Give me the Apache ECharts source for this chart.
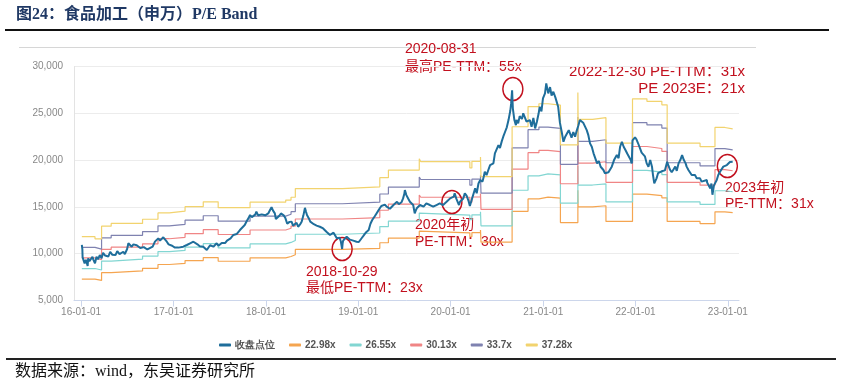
<!DOCTYPE html>
<html>
<head>
<meta charset="utf-8">
<script src="https://cdn.jsdelivr.net/npm/echarts@6/dist/echarts.min.js"></script>
<style>
html,body{margin:0;padding:0;background:#fff;}
#chart{width:842px;height:390px;}
</style>
</head>
<body>
<div id="chart"></div>
<script>
// ---- Data ----
const closeDates = ['2016-01-04','2016-01-06','2016-01-07','2016-01-12','2016-01-15','2016-01-20','2016-01-22','2016-01-27','2016-01-29','2016-02-03','2016-02-05','2016-02-15','2016-02-18','2016-02-25','2016-03-02','2016-03-08','2016-03-15','2016-03-22','2016-03-28','2016-04-05','2016-04-11','2016-04-18','2016-04-25','2016-05-03','2016-05-09','2016-05-16','2016-05-23','2016-06-01','2016-06-08','2016-06-16','2016-06-22','2016-06-27','2016-07-01','2016-07-06','2016-07-12','2016-07-19','2016-07-26','2016-08-01','2016-08-08','2016-08-15','2016-08-22','2016-08-29','2016-09-05','2016-09-12','2016-09-19','2016-09-26','2016-10-10','2016-10-19','2016-10-26','2016-11-01','2016-11-08','2016-11-15','2016-11-21','2016-11-28','2016-12-05','2016-12-12','2016-12-19','2016-12-26','2016-12-30',
'2017-01-06','2017-01-13','2017-01-20','2017-01-26','2017-02-08','2017-02-15','2017-02-22','2017-03-01','2017-03-07','2017-03-14','2017-03-20','2017-03-27','2017-04-05','2017-04-14','2017-04-21','2017-04-28','2017-05-05','2017-05-12','2017-05-19','2017-05-25','2017-06-01','2017-06-07','2017-06-14','2017-06-20','2017-06-27','2017-07-03','2017-07-10','2017-07-17','2017-07-24','2017-07-31','2017-08-07','2017-08-14','2017-08-21','2017-08-25','2017-09-01','2017-09-07','2017-09-14','2017-09-20','2017-09-27','2017-10-09','2017-10-17','2017-10-24','2017-10-30','2017-11-06','2017-11-13','2017-11-20','2017-11-24','2017-12-01','2017-12-08','2017-12-15','2017-12-22','2017-12-29',
'2018-01-04','2018-01-10','2018-01-17','2018-01-23','2018-01-29','2018-02-05','2018-02-09','2018-02-22','2018-03-01','2018-03-05','2018-03-12','2018-03-19','2018-03-26','2018-03-30','2018-04-04','2018-04-12','2018-04-18','2018-04-25','2018-05-02','2018-05-08','2018-05-15','2018-05-22','2018-05-29','2018-06-04','2018-06-08','2018-06-12','2018-06-19','2018-06-25','2018-07-02','2018-07-09','2018-07-16','2018-07-20','2018-07-27','2018-08-02','2018-08-09','2018-08-15','2018-08-21','2018-08-28','2018-09-04','2018-09-11','2018-09-18','2018-09-25','2018-10-08','2018-10-12','2018-10-19','2018-10-24','2018-10-29','2018-10-31','2018-11-02','2018-11-09','2018-11-16','2018-11-23','2018-11-29','2018-12-06','2018-12-12','2018-12-19','2018-12-25',
'2019-01-03','2019-01-07','2019-01-14','2019-01-21','2019-01-28','2019-02-01','2019-02-11','2019-02-18','2019-02-25','2019-03-01','2019-03-07','2019-03-14','2019-03-21','2019-03-27','2019-04-02','2019-04-09','2019-04-16','2019-04-23','2019-04-30','2019-05-06','2019-05-13','2019-05-20','2019-05-27','2019-06-03','2019-06-10','2019-06-14','2019-06-21','2019-06-27','2019-07-02','2019-07-04','2019-07-10','2019-07-17','2019-07-24','2019-07-31','2019-08-06','2019-08-12','2019-08-16','2019-08-20','2019-08-27','2019-09-02','2019-09-09','2019-09-16','2019-09-23','2019-09-27','2019-10-11','2019-10-17','2019-10-24','2019-10-31','2019-11-06','2019-11-13','2019-11-19','2019-11-26','2019-12-02','2019-12-09','2019-12-16','2019-12-23','2019-12-30',
'2020-01-06','2020-01-13','2020-01-17','2020-01-23','2020-02-03','2020-02-07','2020-02-14','2020-02-20','2020-02-26','2020-03-04','2020-03-11','2020-03-17','2020-03-23','2020-03-30','2020-04-07','2020-04-13','2020-04-20','2020-04-27','2020-05-06','2020-05-11','2020-05-15','2020-05-22','2020-05-29','2020-06-05','2020-06-11','2020-06-18','2020-06-24','2020-07-01','2020-07-08','2020-07-14','2020-07-21','2020-07-27','2020-08-03','2020-08-10','2020-08-17','2020-08-24','2020-08-27','2020-08-31','2020-09-03','2020-09-09','2020-09-15','2020-09-18','2020-09-24','2020-09-30','2020-10-09','2020-10-14','2020-10-20','2020-10-27','2020-11-03','2020-11-09','2020-11-16','2020-11-23','2020-11-30','2020-12-07','2020-12-14','2020-12-18','2020-12-25','2020-12-31',
'2021-01-08','2021-01-13','2021-01-21','2021-01-28','2021-02-03','2021-02-10','2021-02-18','2021-02-23','2021-03-01','2021-03-08','2021-03-15','2021-03-22','2021-03-29','2021-04-06','2021-04-12','2021-04-19','2021-04-23','2021-04-30','2021-05-07','2021-05-13','2021-05-20','2021-05-26','2021-06-02','2021-06-08','2021-06-15','2021-06-22','2021-06-28','2021-07-05','2021-07-12','2021-07-19','2021-07-26','2021-08-02','2021-08-09','2021-08-16','2021-08-20','2021-08-27','2021-09-02','2021-09-09','2021-09-16','2021-09-23','2021-09-29','2021-10-08','2021-10-12','2021-10-19','2021-10-26','2021-11-01','2021-11-08','2021-11-15','2021-11-22','2021-11-29','2021-12-06','2021-12-13','2021-12-17','2021-12-20','2021-12-24','2021-12-30',
'2022-01-05','2022-01-11','2022-01-18','2022-01-25','2022-02-07','2022-02-09','2022-02-14','2022-02-21','2022-02-28','2022-03-07','2022-03-11','2022-03-16','2022-03-25','2022-03-31','2022-04-07','2022-04-14','2022-04-20','2022-04-27','2022-05-06','2022-05-11','2022-05-18','2022-05-24','2022-05-31','2022-06-07','2022-06-13','2022-06-20','2022-06-27','2022-07-04','2022-07-11','2022-07-18','2022-07-22','2022-07-29','2022-08-05','2022-08-11','2022-08-17','2022-08-24','2022-08-31','2022-09-06','2022-09-13','2022-09-19','2022-09-26','2022-10-10','2022-10-11','2022-10-17','2022-10-24','2022-10-28','2022-11-01','2022-11-07','2022-11-18','2022-11-24','2022-12-01','2022-12-08','2022-12-14','2022-12-21','2022-12-28','2022-12-30',
'2023-01-09','2023-01-13','2023-01-20'];

const closeValues = [10930,10500,9600,9400,8970,9350,9300,8700,9510,9200,9260,9680,9400,8970,9680,9400,9860,9510,10100,9800,9960,9700,10210,9900,10000,9850,10280,9960,10150,10210,9950,9860,10500,11110,10900,10750,11000,11180,10900,10750,10600,10470,10700,10570,10450,10390,10750,11290,11350,11640,11400,11500,11750,11600,11280,11000,10900,10850,10750,
10650,10570,10650,10800,10750,10850,10930,11000,11110,11050,11280,11150,11000,10800,10900,10750,10550,10390,10600,10900,10700,10750,10950,11110,10850,10930,11150,11280,11150,11400,11500,11640,11800,12000,11900,12100,12300,12530,12700,13060,13500,13800,14130,13900,13800,14200,14490,14100,14000,14200,14310,14100,
13950,14300,14670,14960,14600,14310,13700,14030,14300,14500,14100,13780,13200,13060,13400,13420,13000,13150,13300,12880,13100,13420,14100,14900,14500,14130,13800,13420,13300,13150,13200,13000,13100,12880,12900,12700,12500,12350,12200,12000,12100,12250,11640,11500,11700,11300,10500,11100,11400,11600,11810,11600,11500,11550,11400,11350,11280,
11250,11400,11650,11900,12100,12300,12530,13200,13600,13780,14000,14300,14600,14850,15100,15200,15250,15020,15200,14800,15000,15200,15300,15550,15300,15200,15500,15910,16400,16800,16260,15900,15550,15350,15200,14310,14600,14850,15000,15200,15300,15020,15200,15380,15200,15350,15020,15100,15200,15300,15380,15250,15200,15400,15550,15700,15910,
15700,16090,16450,15910,15200,15550,15700,15900,16450,16200,15700,15100,15200,16280,17000,16450,17500,17870,17700,18240,18760,18400,18940,19470,19300,19650,20720,20900,21600,21300,22000,22500,23000,23500,24300,25300,26000,27450,25500,24280,23740,24300,23920,24700,24400,25000,24600,24100,23900,24280,23560,24500,23390,24100,25000,25700,25200,26600,
27130,28200,27130,27800,26900,27300,26700,26800,25700,24000,23030,21960,22500,22900,23200,23000,22400,23000,22500,23100,23700,24280,24460,24000,23600,23200,22700,21790,21430,20720,20900,19650,19900,19290,19500,18940,18600,18400,18700,18600,19300,20000,20200,20550,20200,21430,21960,21430,21080,20700,20360,20000,19650,22100,22000,22430,
22200,21800,21300,20800,20400,20360,19650,19300,20000,19300,18400,17520,18050,18600,18400,18800,18600,18900,19820,19400,18940,18700,19000,19300,18850,19650,20000,20540,20000,19650,19300,18940,18760,18400,18600,18400,18050,17870,18050,17700,17500,17870,17600,17300,16980,17500,16300,17300,17870,18400,18760,18600,19300,19100,19470,19440,
19800,19650,19820];

// Index EPS-TTM (band level / band multiple)
const epsDates = ['2016-01-04','2016-02-25','2016-03-22','2016-04-29','2016-08-31','2016-10-31','2016-12-15','2017-02-15','2017-04-28','2017-06-26','2017-10-30','2018-03-20','2018-04-10','2018-04-27','2018-10-30','2019-03-27','2019-04-30','2019-08-30','2019-09-05','2020-03-17','2020-03-25','2020-04-28','2020-04-30','2020-08-31','2020-11-02','2020-12-15','2021-01-20','2021-03-10','2021-05-18','2021-05-19','2021-07-15','2021-09-06','2021-12-20','2022-02-15','2022-04-15','2022-05-06','2022-09-13','2022-11-11','2022-12-20','2023-01-20'];
const epsValues = [317,311,347,355,367,385,390,403,417,400,416,422,430,455,460,486,508,540,532,514,533,545,489,632,690,698,694,580,730,653,658,585,712,705,695,585,575,630,626,624];

const bandMultiples = [22.98, 26.55, 30.13, 33.7, 37.28];
const bandNames = ['22.98x', '26.55x', '30.13x', '33.7x', '37.28x'];
const closeName = '收盘点位';
const yTicks = [5000, 10000, 15000, 20000, 25000, 30000];

// annotations (date, value) where circles sit
const markDates = ['2018-10-29', '2020-01-06', '2020-09-03', '2022-12-30'];
const markValues = [10500, 15520, 27590, 19370];

// ---- styles ----
const bandColors = ['#f5a550', '#82d6d2', '#f08585', '#7f82b0', '#f2d36e'];
const closeColor = '#1f6e9b';
const red = '#c2101e';
const narrow = '"Liberation Sans Narrow","Liberation Sans",Arial,sans-serif';
const cjkSans = '"Liberation Sans","Noto Sans CJK SC",sans-serif';
const serif = '"Liberation Serif","Noto Sans CJK SC",serif';

const closeData = closeDates.map((d, i) => [d, closeValues[i]]);
const bandSeries = bandMultiples.map((m, k) => ({
  name: bandNames[k],
  type: 'line',
  step: 'end',
  showSymbol: false,
  symbol: 'none',
  data: epsDates.map((d, i) => [d, Math.round(epsValues[i] * m)]),
  lineStyle: { width: 1.2, color: bandColors[k] },
  itemStyle: { color: bandColors[k] },
  z: 2
}));

const chart = echarts.init(document.getElementById('chart'), null, { renderer: 'canvas' });

function txt(x, y, s, opt) {
  return Object.assign({
    type: 'text', x: x, y: y, silent: true,
    style: Object.assign({ text: s, fill: red, font: '14px ' + cjkSans, textVerticalAlign: 'middle', textAlign: 'left' }, opt || {})
  });
}

const option = {
  animation: false,
  backgroundColor: '#fff',
  grid: { left: 74, right: 103, top: 66.5, bottom: 89.5, containLabel: false },
  legend: {
    left: 214, top: 335,
    icon: 'roundRect', itemWidth: 12, itemHeight: 3, itemGap: 14, itemStyle: { borderWidth: 0 },
    textStyle: { color: '#555', fontSize: 10, fontFamily: narrow, fontWeight: 'bold', padding: [0, 0, 0, -1] },
    data: [closeName].concat(bandNames)
  },
  xAxis: {
    type: 'time',
    min: '2015-12-04', max: '2023-02-14',
    minInterval: 365 * 24 * 3600 * 1000,
    maxInterval: 366 * 24 * 3600 * 1000,
    splitLine: { show: false },
    axisLine: { lineStyle: { color: '#ccd6eb' } },
    axisTick: { show: true, length: 6, lineStyle: { color: '#ccd6eb' } },
    axisLabel: { formatter: '{yy}-{MM}-{dd}', color: '#888', fontSize: 10, fontFamily: narrow, margin: 7, showMinLabel: false, showMaxLabel: false }
  },
  yAxis: {
    type: 'value', min: yTicks[0], max: yTicks[yTicks.length - 1], interval: 5000,
    axisLine: { show: true, lineStyle: { color: '#e3e3e3' } },
    axisTick: { show: false },
    splitLine: { lineStyle: { color: '#ececec' } },
    axisLabel: { color: '#888', fontSize: 10, fontFamily: narrow, margin: 11, formatter: v => v.toLocaleString('en-US') }
  },
  series: [{
    name: closeName,
    type: 'line',
    showSymbol: false,
    symbol: 'none',
    data: closeData,
    lineStyle: { width: 2, color: closeColor },
    itemStyle: { color: closeColor },
    z: 5,
    markPoint: {
      symbol: 'circle', symbolSize: [20, 23], silent: true,
      label: { show: false },
      itemStyle: { color: 'rgba(0,0,0,0)', borderColor: red, borderWidth: 1.5 },
      data: markDates.map((d, i) => ({ coord: [d, markValues[i]] }))
    }
  }].concat(bandSeries),
  graphic: [
    { type: 'text', left: 16, top: 7, silent: true,
      style: { text: '图24：食品加工（申万）P/E Band', fill: '#1f3864', font: 'bold 16px ' + serif } },
    { type: 'rect', shape: { x: 5, y: 29, width: 824, height: 2 }, style: { fill: '#111' }, silent: true },
    { type: 'rect', shape: { x: 19, y: 47, width: 737, height: 1 }, style: { fill: '#d6d6d6' }, silent: true },
    { type: 'rect', shape: { x: 6, y: 358, width: 830, height: 2 }, style: { fill: '#222' }, silent: true },
    { type: 'text', left: 15, top: 364, silent: true,
      style: { text: '数据来源：wind，东吴证券研究所', fill: '#111', font: '16px ' + serif } },
    txt(405, 49, '2020-08-31'),
    txt(405, 67, '最高PE-TTM：55x'),
    txt(745, 72, '2022-12-30 PE-TTM：31x', { textAlign: 'right', font: '15px ' + cjkSans }),
    txt(745, 89, 'PE 2023E：21x', { textAlign: 'right', font: '15px ' + cjkSans }),
    txt(725, 188, '2023年初'),
    txt(725, 204, 'PE-TTM：31x'),
    txt(415, 225, '2020年初'),
    txt(415, 242, 'PE-TTM：30x'),
    txt(306, 272, '2018-10-29'),
    txt(306, 288, '最低PE-TTM：23x')
  ]
};
chart.setOption(option);
</script>
</body>
</html>
